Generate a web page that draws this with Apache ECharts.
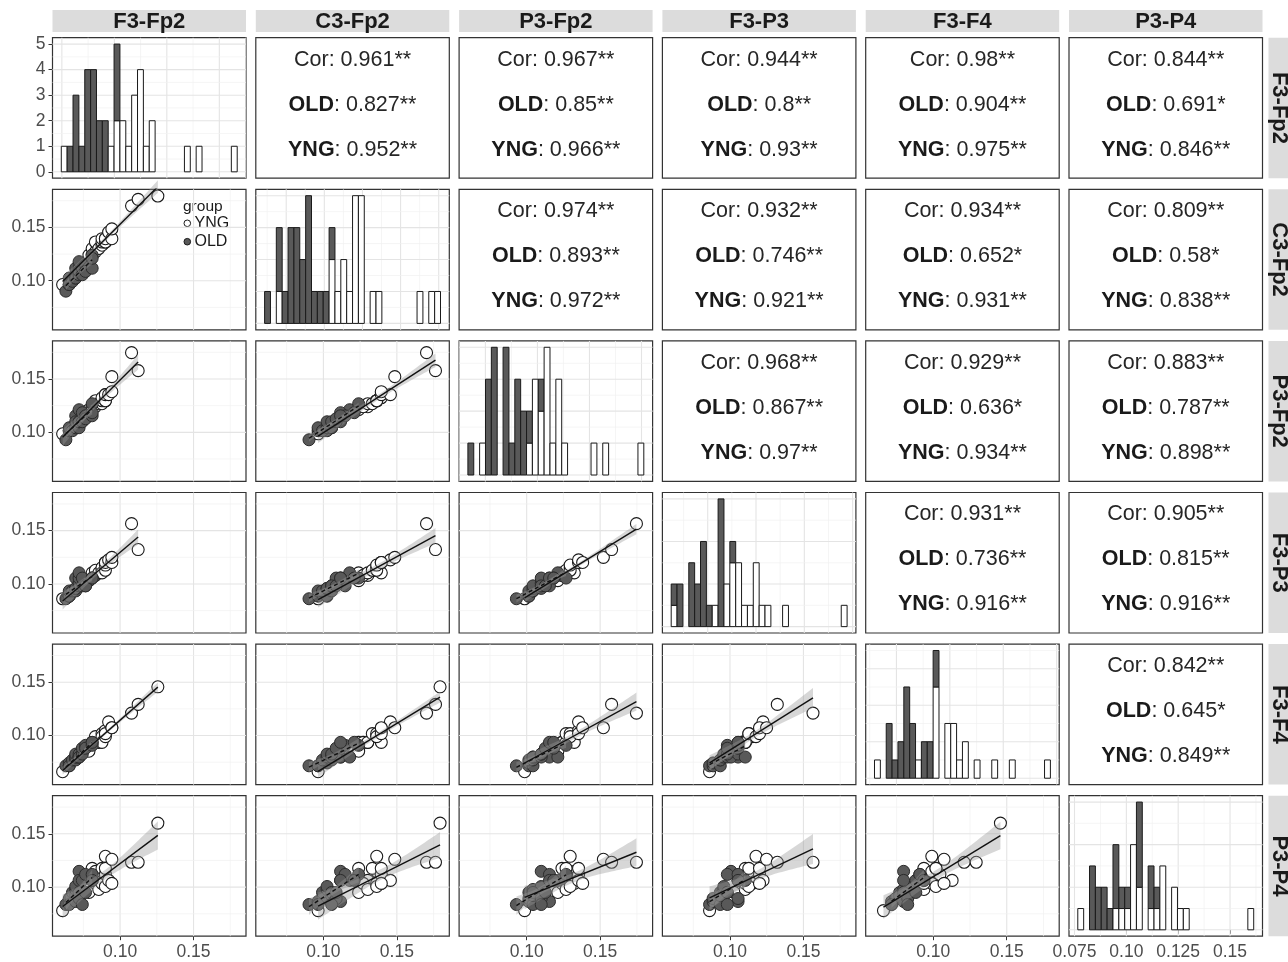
<!DOCTYPE html>
<html>
<head>
<meta charset="utf-8">
<script src="https://cdn.jsdelivr.net/npm/echarts@6/dist/echarts.min.js"></script>
<style>
  html, body { margin: 0; padding: 0; background: #ffffff; }
  #main { width: 1288px; height: 962px; }
</style>
</head>
<body>
<div id="main"></div>
<script>
// ---- Variables (electrode-pair measures) ----
const VAR_NAMES = ['F3-Fp2', 'C3-Fp2', 'P3-Fp2', 'F3-P3', 'F3-F4', 'P3-P4'];

// ---- Per-subject values, OLD group (20 subjects) ----
const OLD_F3_FP2 = [0.0631, 0.0654, 0.0654, 0.0654, 0.0676, 0.0698, 0.0698, 0.0698, 0.0698, 0.0721, 0.0721, 0.0721, 0.0721, 0.0743, 0.0743, 0.0765, 0.0765, 0.0810, 0.0810, 0.0810];
const OLD_C3_FP2 = [0.0902, 0.0964, 0.1025, 0.0964, 0.0994, 0.1056, 0.1025, 0.1117, 0.1025, 0.1056, 0.1117, 0.1087, 0.1179, 0.1056, 0.1117, 0.1148, 0.1087, 0.1117, 0.1240, 0.1210];
const OLD_P3_FP2 = [0.0930, 0.1015, 0.1015, 0.1043, 0.1015, 0.1043, 0.1043, 0.1155, 0.1099, 0.1043, 0.1099, 0.1099, 0.1212, 0.1099, 0.1184, 0.1155, 0.1127, 0.1155, 0.1268, 0.1184];
const OLD_F3_P3  = [0.0861, 0.0885, 0.0885, 0.0934, 0.0934, 0.0934, 0.0958, 0.1055, 0.0958, 0.0982, 0.1007, 0.1055, 0.1104, 0.0982, 0.1055, 0.0982, 0.0982, 0.1055, 0.1055, 0.1055];
const OLD_F3_F4  = [0.0716, 0.0716, 0.0743, 0.0716, 0.0771, 0.0771, 0.0798, 0.0798, 0.0826, 0.0798, 0.0798, 0.0826, 0.0798, 0.0826, 0.0881, 0.0908, 0.0881, 0.0936, 0.0908, 0.0936];
const OLD_P3_P4  = [0.0837, 0.0865, 0.0893, 0.0837, 0.0950, 0.0921, 0.0978, 0.0865, 0.1006, 0.0950, 0.1148, 0.0893, 0.1063, 0.0837, 0.1063, 0.1119, 0.0950, 0.1063, 0.1119, 0.1063];

// ---- Per-subject values, YNG group (20 subjects; null = not measured) ----
const YNG_F3_FP2 = [0.0609, 0.0788, 0.0810, 0.0810, 0.0832, 0.0832, 0.0855, 0.0877, 0.0877, 0.0877, 0.0900, 0.0900, 0.0900, 0.0900, 0.0922, 0.0944, 0.0944, 0.1078, 0.1123, 0.1257];
const YNG_C3_FP2 = [0.0964, 0.1240, 0.1302, 0.1240, 0.1271, 0.1363, 0.1302, 0.1333, 0.1363, 0.1394, 0.1363, 0.1394, 0.1363, 0.1394, 0.1456, 0.1394, 0.1486, 0.1702, 0.1763, 0.1794];
const YNG_P3_FP2 = [0.0986, 0.1212, 0.1240, 0.1240, 0.1240, 0.1296, 0.1268, 0.1268, 0.1296, 0.1324, 0.1296, 0.1353, 0.1296, 0.1353, 0.1353, 0.1381, 0.1522, 0.1747, 0.1578, null];
const YNG_F3_P3  = [0.0861, 0.1031, 0.1080, 0.1104, 0.1080, 0.1128, 0.1104, 0.1128, 0.1152, 0.1104, 0.1128, 0.1201, 0.1177, 0.1201, 0.1225, 0.1201, 0.1249, 0.1565, 0.1322, null];
const YNG_F3_F4  = [0.0661, 0.0853, 0.0936, 0.0936, 0.0936, 0.0990, 0.0936, 0.1018, 0.0990, 0.0936, 0.1018, 0.1045, 0.0990, 0.1018, 0.1128, 0.1073, 0.1073, 0.1210, 0.1292, 0.1457];
const YNG_P3_P4  = [0.0780, 0.0950, 0.1063, 0.1176, 0.1035, 0.1148, 0.0978, 0.1176, 0.1035, 0.1035, 0.1006, 0.1119, 0.1289, 0.1176, 0.1063, 0.1035, 0.1261, 0.1233, 0.1233, 0.1600];

// ---- Correlation labels for the upper panels (row variable vs later column variables) ----
const COR_ALL = [
  ['0.961**', '0.967**', '0.944**', '0.98**', '0.844**'],
  ['0.974**', '0.932**', '0.934**', '0.809**'],
  ['0.968**', '0.929**', '0.883**'],
  ['0.931**', '0.905**'],
  ['0.842**']
];
const COR_OLD = [
  ['0.827**', '0.85**', '0.8**', '0.904**', '0.691*'],
  ['0.893**', '0.746**', '0.652*', '0.58*'],
  ['0.867**', '0.636*', '0.787**'],
  ['0.736**', '0.815**'],
  ['0.645*']
];
const COR_YNG = [
  ['0.952**', '0.966**', '0.93**', '0.975**', '0.846**'],
  ['0.972**', '0.921**', '0.931**', '0.838**'],
  ['0.97**', '0.934**', '0.898**'],
  ['0.916**', '0.916**'],
  ['0.849**']
];

// ---- Axis ticks ----
const SCATTER_LIMITS = [0.054, 0.1857];
const SCATTER_TICKS = [0.10, 0.15];
const SCATTER_TICK_LABELS = ['0.10', '0.15'];
const SCATTER_MINOR = [0.075, 0.125, 0.175];
const COUNT_TICKS = [0, 1, 2, 3, 4, 5];
const LAST_HIST_TICKS = [0.075, 0.10, 0.125, 0.15];
const LAST_HIST_TICK_LABELS = ['0.075', '0.10', '0.125', '0.15'];
const HIST_MINOR_STEP = [0.01, 0.01, 0.0125, 0.01, 0.0125, 0.0125];
const HIST_BINS = 30;

// ---- Layout & style ----
const FONT = '"Liberation Sans", Arimo, Arial, Helvetica, sans-serif';
const L0 = 52.5, T0 = 37.7, PW = 193.5, PH = 140.5, DX = 203.3, DY = 151.6;
const OLD_FILL = '#595959';
const INK = '#1a1a1a';
const AXIS_TEXT = '#4d4d4d';

const OLD_DATA = [OLD_F3_FP2, OLD_C3_FP2, OLD_P3_FP2, OLD_F3_P3, OLD_F3_F4, OLD_P3_P4];
const YNG_DATA = [YNG_F3_FP2, YNG_C3_FP2, YNG_P3_FP2, YNG_F3_P3, YNG_F3_F4, YNG_P3_P4];
const NV = VAR_NAMES.length;

function px(c) { return L0 + c * DX; }
function py(r) { return T0 + r * DY; }
function present(arr) { return arr.filter(x => x !== null); }

// stacked histogram, 30 bins centred on min..max of the pooled values
function histogram(v) {
  const olds = present(OLD_DATA[v]), yngs = present(YNG_DATA[v]);
  const all = olds.concat(yngs);
  const mn = Math.min.apply(null, all), mx = Math.max.apply(null, all);
  const w = (mx - mn) / (HIST_BINS - 1);
  const co = new Array(HIST_BINS).fill(0), cy = new Array(HIST_BINS).fill(0);
  olds.forEach(x => co[Math.round((x - mn) / w)]++);
  yngs.forEach(x => cy[Math.round((x - mn) / w)]++);
  const bars = [];
  let top = 0;
  for (let k = 0; k < HIST_BINS; k++) {
    const x0 = mn + (k - 0.5) * w, x1 = mn + (k + 0.5) * w;
    if (cy[k] > 0) bars.push([x0, x1, 0, cy[k], 0]);
    if (co[k] > 0) bars.push([x0, x1, cy[k], cy[k] + co[k], 1]);
    top = Math.max(top, cy[k] + co[k]);
  }
  const lo = mn - w / 2, hi = mx + w / 2, pad = 0.05 * (hi - lo);
  return { bars: bars, xlim: [lo - pad, hi + pad], ylim: [-0.05 * top, 1.05 * top], top: top };
}

// least-squares line with a 95% confidence band
const T975 = { 15: 2.131, 16: 2.120, 17: 2.110, 18: 2.101, 19: 2.093, 20: 2.086 };
function fitLine(pts) {
  const n = pts.length;
  let sx = 0, sy = 0;
  pts.forEach(p => { sx += p[0]; sy += p[1]; });
  const mx = sx / n, my = sy / n;
  let sxx = 0, sxy = 0;
  pts.forEach(p => { sxx += (p[0] - mx) * (p[0] - mx); sxy += (p[0] - mx) * (p[1] - my); });
  const b = sxy / sxx, a = my - b * mx;
  let ss = 0;
  pts.forEach(p => { const e = p[1] - a - b * p[0]; ss += e * e; });
  const s = Math.sqrt(ss / (n - 2));
  const t = T975[n - 2] || 2.1;
  const xs = pts.map(p => p[0]);
  const xmin = Math.min.apply(null, xs), xmax = Math.max.apply(null, xs);
  const upper = [], lower = [];
  const steps = 40;
  for (let k = 0; k <= steps; k++) {
    const x = xmin + (xmax - xmin) * k / steps;
    const yh = a + b * x;
    const se = s * Math.sqrt(1 / n + (x - mx) * (x - mx) / sxx);
    upper.push([x, yh + t * se]);
    lower.push([x, yh - t * se]);
  }
  return { line: [[xmin, a + b * xmin], [xmax, a + b * xmax]], upper: upper, lower: lower };
}

function gridLinesSeries(gi, xs, ys, xlim, ylim) {
  const data = [];
  xs.forEach(g => data.push([g.v, ylim[0], 0, g.major ? 1 : 0]));
  ys.forEach(g => data.push([xlim[0], g.v, 1, g.major ? 1 : 0]));
  return {
    type: 'custom', xAxisIndex: gi, yAxisIndex: gi, z: 1, silent: true,
    data: data,
    renderItem: function (params, api) {
      const cs = params.coordSys;
      const p = api.coord([api.value(0), api.value(1)]);
      const vertical = api.value(2) === 0;
      const major = api.value(3) === 1;
      const shape = vertical
        ? { x1: p[0], y1: cs.y, x2: p[0], y2: cs.y + cs.height }
        : { x1: cs.x, y1: p[1], x2: cs.x + cs.width, y2: p[1] };
      return { type: 'line', shape: shape, style: { stroke: major ? '#e4e4e4' : '#f0f0f0', lineWidth: major ? 1.1 : 0.7 } };
    }
  };
}

function steppedBreaks(lim, step) {
  const out = [];
  const n0 = Math.ceil(lim[0] / step - 1e-9), n1 = Math.floor(lim[1] / step + 1e-9);
  for (let n = n0; n <= n1; n++) out.push({ v: n * step, major: n % 2 === 0 });
  return out;
}

function axis(gi, lim, show, values, labels) {
  return {
    gridIndex: gi, type: 'value', min: lim[0], max: lim[1],
    axisLine: { show: false },
    splitLine: { show: false },
    axisTick: { show: show, customValues: values || [], length: 4, lineStyle: { color: '#333333', width: 1 } },
    axisLabel: {
      show: show, customValues: values || [], margin: 7,
      color: AXIS_TEXT, fontSize: 17.5, fontFamily: FONT,
      formatter: function (val) {
        if (!values) return '';
        let best = 0;
        for (let i = 1; i < values.length; i++) if (Math.abs(values[i] - val) < Math.abs(values[best] - val)) best = i;
        return labels[best];
      }
    }
  };
}

const grids = [], xAxes = [], yAxes = [], series = [], graphics = [];
const hists = [];
for (let v = 0; v < NV; v++) hists.push(histogram(v));

for (let r = 0; r < NV; r++) {
  for (let c = 0; c < NV; c++) {
    const gi = r * NV + c;
    grids.push({ left: px(c), top: py(r), width: PW, height: PH, show: true, backgroundColor: '#ffffff', borderColor: '#333333', borderWidth: 1.2 });
    const showX = (r === NV - 1);
    const showY = (c === 0);

    if (r > c) {
      // scatter: x = column variable, y = row variable
      const xTicks = showX ? SCATTER_TICKS : null, yTicks = showY ? SCATTER_TICKS : null;
      xAxes.push(axis(gi, SCATTER_LIMITS, showX, xTicks, SCATTER_TICK_LABELS));
      yAxes.push(axis(gi, SCATTER_LIMITS, showY, yTicks, SCATTER_TICK_LABELS));
      const gl = SCATTER_TICKS.map(v => ({ v: v, major: true })).concat(SCATTER_MINOR.map(v => ({ v: v, major: false })));
      series.push(gridLinesSeries(gi, gl, gl, SCATTER_LIMITS, SCATTER_LIMITS));

      const pairs = (xs, ys) => xs.map((x, i) => [x, ys[i]]).filter(p => p[0] !== null && p[1] !== null);
      const groups = [
        { pts: pairs(YNG_DATA[c], YNG_DATA[r]), old: false },
        { pts: pairs(OLD_DATA[c], OLD_DATA[r]), old: true }
      ];
      groups.forEach(g => {
        series.push({
          type: 'scatter', xAxisIndex: gi, yAxisIndex: gi, z: 3, silent: true,
          symbol: 'circle', symbolSize: 12,
          data: g.pts,
          itemStyle: g.old
            ? { color: OLD_FILL, borderColor: '#2b2b2b', borderWidth: 1, opacity: 1 }
            : { color: '#ffffff', borderColor: INK, borderWidth: 1.1, opacity: 1 }
        });
      });
      groups.forEach(g => {
        const f = fitLine(g.pts);
        series.push({
          type: 'custom', xAxisIndex: gi, yAxisIndex: gi, z: 4, silent: true,
          data: [[f.line[0][0], f.line[0][1]]],
          renderItem: function (params, api) {
            const pts = f.upper.map(p => api.coord(p)).concat(f.lower.slice().reverse().map(p => api.coord(p)));
            return { type: 'polygon', shape: { points: pts }, style: { fill: 'rgba(150,150,150,0.38)' } };
          }
        });
        series.push({
          type: 'line', xAxisIndex: gi, yAxisIndex: gi, z: 5, silent: true,
          symbol: 'none', data: f.line,
          lineStyle: { color: '#111111', width: 1.4, type: g.old ? [4, 3] : 'solid' }
        });
      });
    } else if (r === c) {
      const h = hists[r];
      const last = (r === NV - 1);
      xAxes.push(axis(gi, h.xlim, last, last ? LAST_HIST_TICKS : null, LAST_HIST_TICK_LABELS));
      yAxes.push(axis(gi, h.ylim, r === 0, r === 0 ? COUNT_TICKS : null, COUNT_TICKS.map(String)));
      const cstep = h.top <= 5 ? 1 : 2;
      series.push(gridLinesSeries(gi, steppedBreaks(h.xlim, HIST_MINOR_STEP[r]), steppedBreaks(h.ylim, cstep / 2), h.xlim, h.ylim));
      series.push({
        type: 'custom', xAxisIndex: gi, yAxisIndex: gi, z: 3, silent: true,
        encode: { x: [0, 1], y: [2, 3] },
        data: h.bars,
        renderItem: function (params, api) {
          const p0 = api.coord([api.value(0), api.value(2)]);
          const p1 = api.coord([api.value(1), api.value(3)]);
          return {
            type: 'rect',
            shape: { x: p0[0], y: p1[1], width: p1[0] - p0[0], height: p0[1] - p1[1] },
            style: { fill: api.value(4) === 1 ? OLD_FILL : '#ffffff', stroke: INK, lineWidth: 1 }
          };
        }
      });
    } else {
      // correlation text panel
      xAxes.push(axis(gi, [0, 1], false));
      yAxes.push(axis(gi, [0, 1], false));
      const cx = px(c) + PW / 2, top = py(r);
      const k = c - r - 1;
      const lines = [
        { text: '{n|Cor: ' + COR_ALL[r][k] + '}', dy: 22 },
        { text: '{b|OLD}{n|: ' + COR_OLD[r][k] + '}', dy: 67 },
        { text: '{b|YNG}{n|: ' + COR_YNG[r][k] + '}', dy: 112 }
      ];
      lines.forEach(l => {
        graphics.push({
          type: 'text', x: cx, y: top + l.dy, silent: true,
          style: {
            text: l.text, align: 'center', verticalAlign: 'middle', textAlign: 'center', textVerticalAlign: 'middle',
            fontFamily: FONT, fontSize: 21.5, fill: '#262626',
            rich: {
              n: { fontFamily: FONT, fontSize: 21.5, fill: '#262626', color: '#262626' },
              b: { fontFamily: FONT, fontSize: 21.5, fontWeight: 'bold', fill: '#1a1a1a', color: '#1a1a1a' }
            }
          }
        });
      });
    }
  }
}

// column strips (top) and row strips (right)
for (let i = 0; i < NV; i++) {
  graphics.push({ type: 'rect', silent: true, shape: { x: px(i), y: 10, width: PW, height: 22 }, style: { fill: '#dcdcdc' } });
  graphics.push({
    type: 'text', x: px(i) + PW / 2, y: 21.5, silent: true,
    style: { text: VAR_NAMES[i], align: 'center', verticalAlign: 'middle', textAlign: 'center', textVerticalAlign: 'middle',
             fontFamily: FONT, fontSize: 22, fontWeight: 'bold', fill: INK }
  });
  graphics.push({ type: 'rect', silent: true, shape: { x: 1268.5, y: py(i), width: 22, height: PH }, style: { fill: '#dcdcdc' } });
  graphics.push({
    type: 'text', x: 1279.5, y: py(i) + PH / 2, rotation: -Math.PI / 2, silent: true,
    style: { text: VAR_NAMES[i], align: 'center', verticalAlign: 'middle', textAlign: 'center', textVerticalAlign: 'middle',
             fontFamily: FONT, fontSize: 22, fontWeight: 'bold', fill: INK }
  });
}

// group legend inside the first scatter panel
const lgX = px(0), lgY = py(1);
graphics.push({ type: 'text', x: lgX + 130.5, y: lgY + 17.4, silent: true,
  style: { text: 'group', verticalAlign: 'middle', textVerticalAlign: 'middle', fontFamily: FONT, fontSize: 15.5, fill: INK } });
[['YNG', '#ffffff', 34], ['OLD', OLD_FILL, 52.4]].forEach(e => {
  graphics.push({ type: 'circle', silent: true, shape: { cx: lgX + 134.8, cy: lgY + e[2], r: 3.3 }, style: { fill: e[1], stroke: INK, lineWidth: 1 } });
  graphics.push({ type: 'text', x: lgX + 142, y: lgY + e[2], silent: true,
    style: { text: e[0], verticalAlign: 'middle', textVerticalAlign: 'middle', fontFamily: FONT, fontSize: 16, fill: INK } });
});

const chart = echarts.init(document.getElementById('main'), null, { renderer: 'canvas', width: 1288, height: 962 });
chart.setOption({
  animation: false,
  backgroundColor: '#ffffff',
  grid: grids,
  xAxis: xAxes,
  yAxis: yAxes,
  series: series,
  graphic: { elements: graphics }
});
</script>
</body>
</html>
